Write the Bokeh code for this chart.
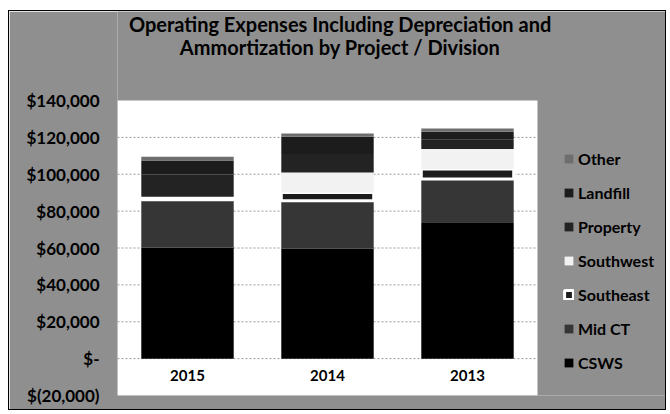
from bokeh.plotting import figure
from bokeh.models import ColumnDataSource, Range1d, FixedTicker, Legend, LegendItem, BoxAnnotation
from bokeh.core.properties import value
from bokeh.embed import file_html
from bokeh.resources import INLINE

# ---- data ----
years = ["2015", "2014", "2013"]
series = ["CSWS", "Mid CT", "Southeast", "Southwest", "Property", "Landfill", "Other"]
csws = [60300, 59600, 74000]
mid_ct = [25900, 26000, 23400]
southeast = [1600, 4500, 5400]
southwest = [0, 10900, 10900]
property_ = [12000, 10000, 5000]
landfill = [7700, 9300, 4300]
other = [2000, 1800, 1800]

y_min, y_max = -20000, 140000
tick_values = [-20000, 0, 20000, 40000, 60000, 80000, 100000, 120000, 140000]
tick_labels = ["$(20,000)", "$-", "$20,000", "$40,000", "$60,000", "$80,000",
               "$100,000", "$120,000", "$140,000"]
grid_values = [0, 20000, 40000, 60000, 80000, 100000, 120000]

title_lines = ["Operating Expenses Including Depreciation and",
               "Ammortization by Project / Division"]

# ---- layout (pixels) ----
W, H = 658, 400
left_px, bottom_px = 108, 16
frame_w, frame_h = W - left_px, H - bottom_px
area_w, area_top = 420, 89          # white plot area inside the frame
area_h = frame_h - area_top
n = len(years)

per_px_y = (y_max - y_min) / area_h
y_end = y_max + area_top * per_px_y
x_end = n * frame_w / area_w

def ypx(px_from_top):
    return y_end - px_from_top * per_px_y

colors = ["#000000", "#363636", "#1c1c1c", "#f2f2f2", "#232323", "#1c1c1c", "#6e6e6e"]
line_colors = [None, None, "#ffffff", None, None, None, None]
line_widths = [0, 0, 3, 0, 0, 0, 0]

x_pos = [i + 0.5 for i in range(n)]
source = ColumnDataSource(data={
    "x": x_pos, "year": years,
    "CSWS": csws, "Mid CT": mid_ct, "Southeast": southeast, "Southwest": southwest,
    "Property": property_, "Landfill": landfill, "Other": other,
    "label_y": [-9000] * n,
})

p = figure(x_range=Range1d(0, x_end), y_range=Range1d(y_min, y_end),
           width=W, height=H, output_backend="svg", toolbar_location=None,
           min_border_left=left_px, min_border_right=0, min_border_top=0,
           min_border_bottom=bottom_px)
p.styles = {"border": "1px solid #000000", "margin": "10px 0px 0px 8px"}
p.title.visible = False

gray = "#8f8f8f"
p.background_fill_color = gray
p.border_fill_color = gray
p.outline_line_color = None

p.add_layout(BoxAnnotation(left=0, right=n, bottom=y_min, top=y_max,
                           fill_color="#ffffff", fill_alpha=1.0, line_color=None,
                           level="underlay"))

grid_src = ColumnDataSource(data={"y": grid_values})
p.segment(x0=0, x1=n, y0="y", y1="y", source=grid_src,
          line_color="#9a9a9a", line_dash="2 2", line_width=1)

renderers = p.vbar_stack(series, x="x", width=0.66, source=source,
                         fill_color=colors, line_color=line_colors, line_width=line_widths)

p.text(x="x", y="label_y", text="year", source=source,
       text_font=value("Lato"), text_font_size="15px", text_font_style="bold",
       text_align="center", text_baseline="middle", text_color="#000000")

title_src = ColumnDataSource(data={
    "x": [1.59, 1.59],
    "y": [ypx(12), ypx(35)],
    "t": title_lines,
})
p.text(x="x", y="y", text="t", source=title_src,
       text_font=value("Lato"), text_font_size="20px", text_font_style="bold",
       text_align="center", text_baseline="middle", text_color="#000000")

p.xaxis.visible = False
p.xgrid.grid_line_color = None
p.ygrid.grid_line_color = None

ya = p.yaxis[0]
ya.ticker = FixedTicker(ticks=tick_values)
ya.major_label_overrides = dict(zip(tick_values, tick_labels))
ya.axis_line_color = None
ya.major_tick_line_color = None
ya.minor_tick_line_color = None
ya.major_label_standoff = 12
ya.major_label_text_font = "Lato"
ya.major_label_text_font_size = "17px"
ya.major_label_text_font_style = "bold"
ya.major_label_text_color = "#000000"

items = [LegendItem(label=name, renderers=[r]) for name, r in zip(series, renderers)]
legend = Legend(items=list(reversed(items)), location=(446, 23),
                glyph_width=11, glyph_height=11, label_height=20, spacing=14,
                padding=5, label_standoff=4, margin=0,
                background_fill_alpha=0, border_line_color=None,
                label_text_font="Lato", label_text_font_size="16px",
                label_text_font_style="bold", label_text_color="#000000")
p.add_layout(legend)

open("out.html", "w").write(file_html(p, INLINE))
